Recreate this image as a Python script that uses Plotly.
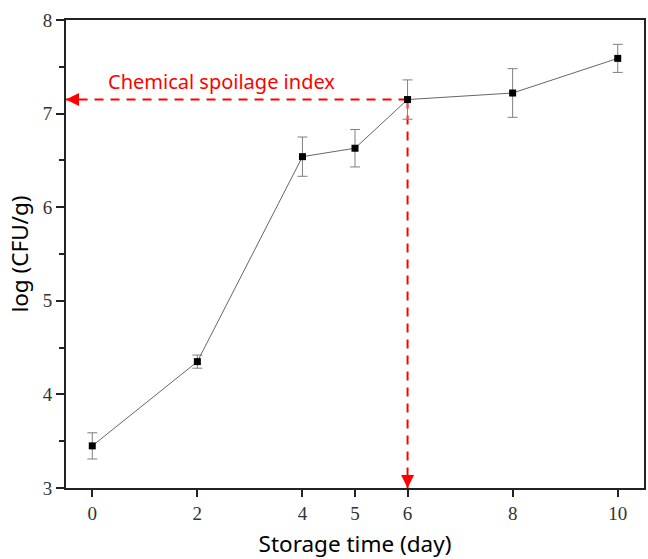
import plotly.graph_objects as go

days = [0, 2, 4, 5, 6, 8, 10]
log_cfu = [3.45, 4.35, 6.54, 6.63, 7.15, 7.22, 7.59]
err = [0.14, 0.07, 0.21, 0.20, 0.21, 0.26, 0.15]
x_ticks = [0, 2, 4, 5, 6, 8, 10]
y_ticks = [3, 4, 5, 6, 7, 8]
index_day = 6
index_value = 7.15
label = "Chemical spoilage index"

fig = go.Figure()

# red dashed guide lines
fig.add_trace(go.Scatter(x=[index_day, -0.5], y=[index_value, index_value], mode="lines",
                         line=dict(color="red", width=2, dash="9px,7px"),
                         hoverinfo="skip", showlegend=False, cliponaxis=False))
fig.add_trace(go.Scatter(x=[index_day, index_day], y=[index_value, 3], mode="lines",
                         line=dict(color="red", width=2, dash="9px,7px"),
                         hoverinfo="skip", showlegend=False, cliponaxis=False))

fig.add_trace(go.Scatter(
    x=days, y=log_cfu, mode="lines+markers",
    line=dict(color="#666666", width=1),
    marker=dict(symbol="square", size=7, color="black"),
    error_y=dict(type="data", array=err, color="#808080", thickness=1, width=5),
    showlegend=False, cliponaxis=False))

# arrow heads
fig.add_annotation(x=-0.5, y=index_value, ax=14, ay=0, xref="x", yref="y",
                   showarrow=True, arrowhead=2, arrowsize=1.3, arrowwidth=2,
                   arrowcolor="red", text="")
fig.add_annotation(x=index_day, y=3, ax=0, ay=-14, xref="x", yref="y",
                   showarrow=True, arrowhead=2, arrowsize=1.3, arrowwidth=2,
                   arrowcolor="red", text="")

fig.add_annotation(x=0.26, y=7.34, xref="x", yref="y", text=label, showarrow=False,
                   xanchor="left", yanchor="middle",
                   font=dict(family="Noto Sans", size=20, color="red"))

fig.update_xaxes(range=[-0.5, 10.5], tickvals=x_ticks, ticks="outside", ticklen=7,
                 tickwidth=2, tickcolor="#222", showline=True, linewidth=2,
                 linecolor="#222", mirror=True, showgrid=False, zeroline=False,
                 tickfont=dict(family="Liberation Serif", size=19, color="#333"),
                 title=dict(text="Storage time (day)",
                            font=dict(family="Noto Sans", size=22.5, color="black"),
                            standoff=16))
fig.update_yaxes(range=[3, 8], tickvals=y_ticks, ticks="outside", ticklen=8,
                 tickwidth=2, tickcolor="#222", showline=True, linewidth=2,
                 linecolor="#222", mirror=True, showgrid=False, zeroline=False,
                 minor=dict(tickvals=[3.5, 4.5, 5.5, 6.5, 7.5], ticks="outside",
                            ticklen=5, tickwidth=2, tickcolor="#222"),
                 tickfont=dict(family="Liberation Serif", size=19, color="#333"),
                 title=dict(text="log (CFU/g)",
                            font=dict(family="Noto Sans", size=22.5, color="black"),
                            standoff=8))

fig.update_layout(width=648, height=559, margin=dict(l=66, r=2, t=20, b=71),
                  paper_bgcolor="white", plot_bgcolor="white")

fig.write_html("out.html")
